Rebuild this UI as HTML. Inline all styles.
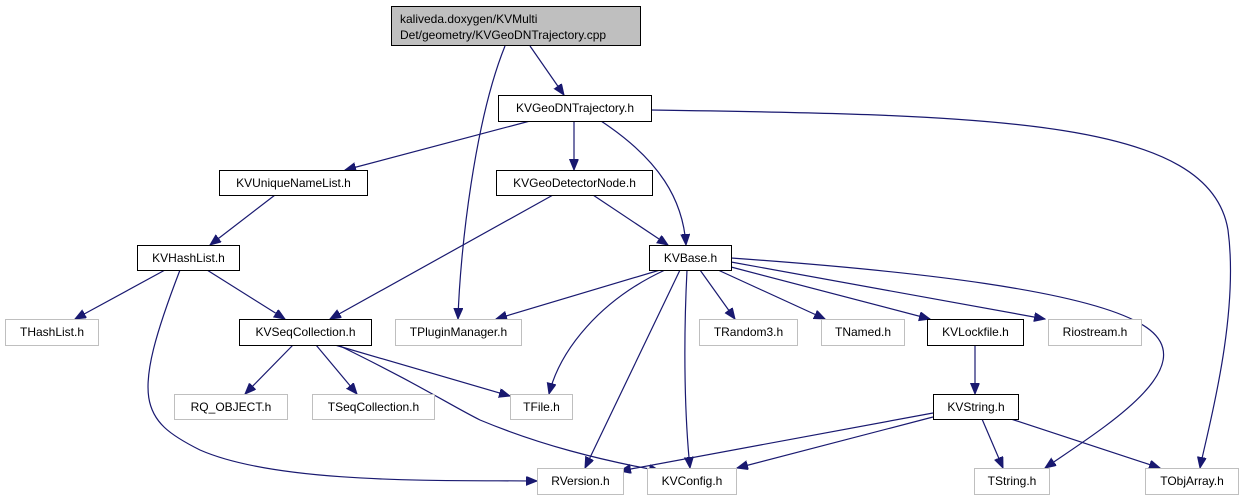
<!DOCTYPE html>
<html><head><meta charset="utf-8"><style>
html,body{margin:0;padding:0;background:#fff;}
svg{display:block;}
text{font-family:"Liberation Sans",sans-serif;font-size:12px;fill:#000;}
</style></head><body>
<svg width="1243" height="500" viewBox="0 0 1243 500" xmlns="http://www.w3.org/2000/svg">
<defs>
<marker id="a" markerUnits="userSpaceOnUse" markerWidth="12" markerHeight="10" refX="11" refY="4.5" orient="auto">
<path d="M0,0 L11,4.5 L0,9 Z" fill="#191970" stroke="#191970"/>
</marker>
</defs>
<g fill="none" stroke="#191970" stroke-width="1.2" marker-end="url(#a)">
<path d="M530,46 L564,95"/>
<path d="M505,46 C475,120 460,250 458,319"/>
<path d="M530,121 L345,170"/>
<path d="M574,121 L574,170"/>
<path d="M601,121 C660,160 683,200 686,245"/>
<path d="M651,110 C1000,115 1210,120 1228,230 C1240,320 1205,440 1200,468"/>
<path d="M275,195 L210,245"/>
<path d="M553,195 L330,319"/>
<path d="M593,195 L668,245"/>
<path d="M165,270 L75,319"/>
<path d="M207,270 L285,319"/>
<path d="M180,270 C130,400 140,420 200,450 C280,485 450,480 537,481"/>
<path d="M293,345 L245,394"/>
<path d="M316,345 L357,394"/>
<path d="M335,345 L510,396"/>
<path d="M338,345 C420,385 450,405 480,420 C540,445 600,460 660,471"/>
<path d="M660,270 L496,319"/>
<path d="M665,270 C600,300 560,350 549,394"/>
<path d="M680,270 L585,468"/>
<path d="M687,270 C683,350 685,420 690,468"/>
<path d="M700,270 L735,319"/>
<path d="M718,270 L825,319"/>
<path d="M731,267 L930,319"/>
<path d="M731,262 L1045,319"/>
<path d="M731,258 C900,270 1100,290 1150,330 C1200,370 1100,430 1045,468"/>
<path d="M975,345 L975,394"/>
<path d="M933,413 L620,471"/>
<path d="M933,417 L737,468"/>
<path d="M982,419 L1003,468"/>
<path d="M1011,419 L1160,468"/>
</g>
<g stroke-width="1">
<rect x="391.5" y="6.5" width="249" height="39" fill="#bfbfbf" stroke="#000"/>
<g fill="#fff" stroke="#000">
<rect x="498.5" y="95.5" width="153" height="26"/>
<rect x="219.5" y="170.5" width="148" height="25"/>
<rect x="496.5" y="170.5" width="156" height="25"/>
<rect x="137.5" y="245.5" width="102" height="25"/>
<rect x="649.5" y="245.5" width="82" height="25"/>
<rect x="239.5" y="319.5" width="132" height="26"/>
<rect x="927.5" y="319.5" width="96" height="26"/>
<rect x="933.5" y="394.5" width="85" height="25"/>
</g>
<g fill="#fff" stroke="#bfbfbf">
<rect x="5.5" y="319.5" width="93" height="26"/>
<rect x="395.5" y="319.5" width="126" height="26"/>
<rect x="699.5" y="319.5" width="98" height="26"/>
<rect x="821.5" y="319.5" width="83" height="26"/>
<rect x="1048.5" y="319.5" width="93" height="26"/>
<rect x="174.5" y="394.5" width="113" height="25"/>
<rect x="312.5" y="394.5" width="122" height="25"/>
<rect x="510.5" y="394.5" width="62" height="25"/>
<rect x="537.5" y="468.5" width="86" height="26"/>
<rect x="647.5" y="468.5" width="89" height="26"/>
<rect x="974.5" y="468.5" width="75" height="26"/>
<rect x="1145.5" y="468.5" width="93" height="26"/>
</g>
</g>
<text x="400" y="23">kaliveda.doxygen/KVMulti</text>
<text x="400" y="39">Det/geometry/KVGeoDNTrajectory.cpp</text>
<g text-anchor="middle">
<text x="575" y="112">KVGeoDNTrajectory.h</text>
<text x="293.5" y="187">KVUniqueNameList.h</text>
<text x="574.5" y="187">KVGeoDetectorNode.h</text>
<text x="188.5" y="262">KVHashList.h</text>
<text x="690.5" y="262">KVBase.h</text>
<text x="305.5" y="336">KVSeqCollection.h</text>
<text x="975.5" y="336">KVLockfile.h</text>
<text x="976" y="411">KVString.h</text>
<text x="52" y="336" fill="#000">THashList.h</text>
<text x="458.5" y="336">TPluginManager.h</text>
<text x="748.5" y="336">TRandom3.h</text>
<text x="863" y="336">TNamed.h</text>
<text x="1095" y="336">Riostream.h</text>
<text x="231" y="411">RQ_OBJECT.h</text>
<text x="373.5" y="411">TSeqCollection.h</text>
<text x="541.5" y="411">TFile.h</text>
<text x="580.5" y="485">RVersion.h</text>
<text x="692" y="485">KVConfig.h</text>
<text x="1012" y="485">TString.h</text>
<text x="1192" y="485">TObjArray.h</text>
</g>
</svg>
</body></html>
